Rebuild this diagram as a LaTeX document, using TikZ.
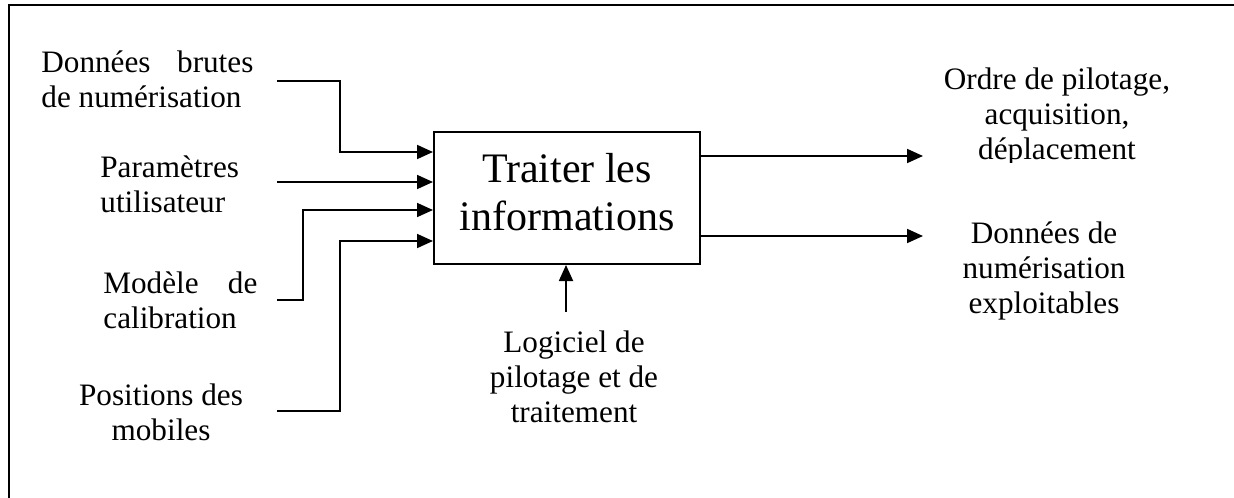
\documentclass[tikz,border=0pt]{standalone}
\usepackage{fontspec}
\setmainfont{Liberation Serif}
\usetikzlibrary{arrows.meta}
\begin{document}
\begin{tikzpicture}[x=0.5pt,y=-0.5pt,
  lbl/.style={inner sep=0pt, font=\fontsize{15.6}{17.5}\selectfont},
  conn/.style={line width=0.9pt},
  arr/.style={conn, -{Triangle[length=8pt,width=7pt]}},
  frame/.style={line width=1pt},
  procbox/.style={draw, line width=1pt, minimum width=133pt, minimum height=66pt,
    inner sep=0pt, align=center, font=\fontsize{21}{24}\selectfont}]
\clip (0,0) rectangle (1234,497);
% outer frame (right and bottom sides lie outside the picture)
\draw[frame] (9,520) -- (9,5) -- (1260,5);

% central process box
\node[procbox] (box) at (567,198) {Traiter les\\informations\rule[-6pt]{0pt}{0pt}};

% input labels (anchored at the baseline of their last line)
\node[lbl, anchor=base west, align=left] (in1) at (41,108)
  {\hbox to 106pt{Données\hfill brutes}\\de numérisation};
\node[lbl, anchor=base west, align=left] (in2) at (100,213)
  {Paramètres\\utilisateur};
\node[lbl, anchor=base west, align=left] (in3) at (103,328)
  {\hbox to 77pt{Modèle\hfill de}\\calibration};
\node[lbl, anchor=base, align=center] (in4) at (161,440)
  {Positions des\\mobiles};

% control label
\node[lbl, anchor=base, align=center] (ctl) at (574,422)
  {Logiciel de\\pilotage et de\\traitement};

% output labels
\begin{scope}
  \clip (900,0) rectangle (1234,163);
  \node[lbl, anchor=base, align=center] (out1) at (1057,160)
    {Ordre de pilotage,\\acquisition,\\déplacement};
\end{scope}
\node[lbl, anchor=base, align=center] (out2) at (1044,313)
  {Données de\\numérisation\\exploitables};

% connector end points and bends
\coordinate (s1) at (277,81);
\coordinate (b1) at (340,152);
\coordinate (s2) at (277,182);
\coordinate (s3) at (277,300);
\coordinate (b3) at (303,210);
\coordinate (s4) at (277,411);
\coordinate (b4) at (340,241);
\coordinate (o1) at (923,156);
\coordinate (o2) at (923,236);
\coordinate (c1) at (566,312);

% inputs
\draw[arr] (s1) -| (b1) -- (box.west |- b1);
\draw[arr] (s2) -- (box.west |- s2);
\draw[arr] (s3) -| (b3) -- (box.west |- b3);
\draw[arr] (s4) -| (b4) -- (box.west |- b4);
% control
\draw[arr] (c1) -- (c1 |- box.south);
% outputs
\draw[arr] (box.east |- o1) -- (o1);
\draw[arr] (box.east |- o2) -- (o2);
\end{tikzpicture}
\end{document}
